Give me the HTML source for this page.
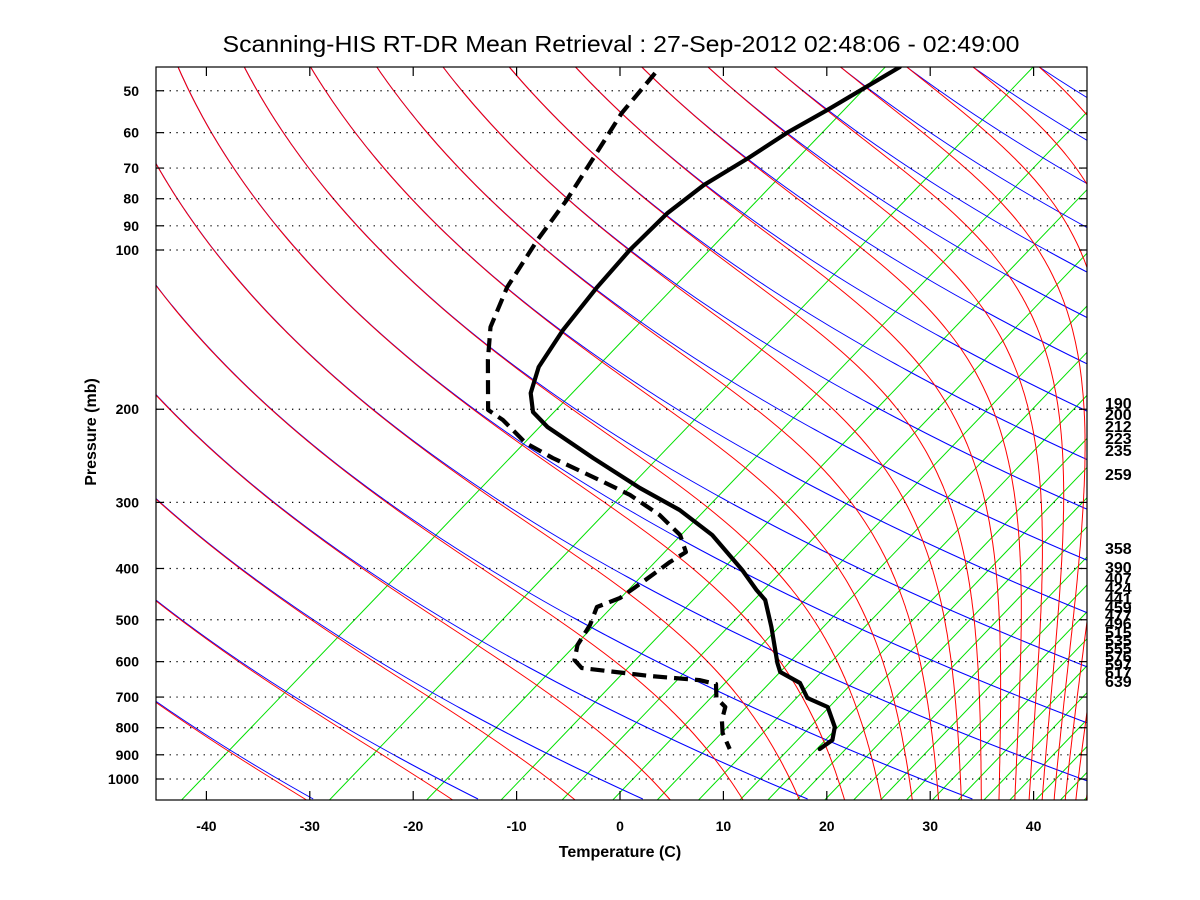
<!DOCTYPE html>
<html><head><meta charset="utf-8"><title>Skew-T</title>
<style>
html,body{margin:0;padding:0;background:#fff;}
svg{display:block;font-family:"Liberation Sans",Arial,sans-serif;}
</style></head>
<body>
<svg id="chart" width="1200" height="900" viewBox="0 0 1200 900">
  <defs><clipPath id="plotclip"><rect x="156" y="67" width="931" height="733"/></clipPath></defs>
  <rect x="0" y="0" width="1200" height="900" fill="#fff"/>
  <g id="bg" clip-path="url(#plotclip)"></g>
  <g id="grid"></g>
  <g id="profiles" clip-path="url(#plotclip)"></g>
  <rect x="156" y="67" width="931" height="733" fill="none" stroke="#000" stroke-width="1.2"/>
  <g id="axes"></g>
  <text x="621" y="52" text-anchor="middle" font-size="23" textLength="797" lengthAdjust="spacingAndGlyphs">Scanning-HIS RT-DR Mean Retrieval : 27-Sep-2012 02:48:06 - 02:49:00</text>
  <text x="620" y="857" text-anchor="middle" font-size="16" font-weight="bold">Temperature (C)</text>
  <text x="0" y="0" transform="translate(96,432) rotate(-90)" text-anchor="middle" font-size="16" font-weight="bold">Pressure (mb)</text>
  <g id="rlabels"></g>
</svg>
<script>
// ---- chart data ----
const tempP = [45.1,54.4,59.8,67.0,75.4,85.1,100,117.5,141.6,166.4,186.4,202.4,216.1,247.3,281.8,310.1,345.8,402.6,439.3,458.8,516.1,603.5,627.6,658.4,703.0,731.1,797.6,843.9,877.6];
const tempT = [-65.1,-66.7,-67.7,-68.3,-69.2,-69.2,-68.2,-66.7,-64.6,-62.3,-59.8,-57.2,-53.9,-45.6,-37.3,-30.7,-24.4,-17.1,-13.2,-11.1,-7.1,-2.0,-0.6,2.7,5.3,8.4,11.6,13.0,12.9];
const dewP = [46.3,55.1,65.6,80.4,95.7,117.5,139.8,161.4,200.6,209.6,231.7,247.3,272.2,290.4,316.9,345.8,372.4,389.0,420.6,454.8,473.0,511.6,558.1,595.7,616.9,638.8,650.1,661.4,703.0,731.1,773.7,818.5,877.6];
const dewT = [-88.0,-86.2,-83.6,-80.6,-78.4,-75.4,-72.0,-68.1,-61.8,-59.1,-54.0,-49.5,-42.2,-37.4,-32.0,-27.5,-24.8,-25.1,-25.2,-25.4,-26.5,-24.9,-23.6,-22.0,-20.3,-12.7,-7.4,-5.3,-3.5,-1.5,-0.2,1.5,4.2];
const xTicks = [-40,-30,-20,-10,0,10,20,30,40];
const yTicks = [50,60,70,80,90,100,200,300,400,500,600,700,800,900,1000];
const rightLabels = ['190','200','212','223','235','259','358','390','407','424','441','459','477','496','515','535','555','576','597','617','639'];
const rightLabelP = [194.6,204.2,215.1,226.7,238.8,265.1,365.9,397.4,416.9,435.5,454.8,473.0,489.8,507.2,527.4,546.1,565.5,585.5,606.2,627.6,652.6];
const mixBottomT = [-42.4,-28.1,-18.7,-11.5,-5.6,-0.7,3.6,7.6,11.6,14.3,17.1,19.8,22.6,25.2,27.7,30.2,32.7,35.2,37.7,40.2,42.6,44.9];

const NS = 'http://www.w3.org/2000/svg';
const X0 = 156, X1 = 1087, Y0 = 67, Y1 = 800;
function yP(p){ return 250 + 529*Math.log10(p/100); }
function pY(y){ return 100*Math.pow(10,(y-250)/529); }
function xAxis(t){ return 620 + 10.34*t; }
function xT(t,p){ return xAxis(t) + 1.3*(800 - yP(p)); }
function mk(tag, attrs, parent){ const e=document.createElementNS(NS,tag); for(const k in attrs) e.setAttribute(k,attrs[k]); parent.appendChild(e); return e; }

const bg = document.getElementById('bg');
const C = 0.001245, D = -1.3, B = -2170, A = 10.2;

mixBottomT.forEach((t,i)=>{
  const xb = xAxis(t);
  const l = mk('line',{x1:xb,y1:Y1,x2:xb+0.96*(Y1-Y0),y2:Y0,stroke:'#00e000','stroke-width':1},bg);
  
  
});

function ratio(T,p){
  if(T<150) return 1;
  const es = 6.112*Math.exp(17.67*(T-273.15)/(T-29.65));
  const rs = 0.622*es/Math.max(p-es,1);
  const num = 1 + 2.5e6*rs/(287*T);
  const den = 1 + 6.25e12*rs*0.622/(1004*287*T*T);
  return num/den;
}
for(let n=-2;n<=19;n++){
  const P = 2650 + 165*n;
  let pts=[];
  for(let y=Y0;y<=Y1;y+=3){ pts.push((P*Math.exp(C*(y-800))+D*(y-800)+B).toFixed(1)+','+y); }
  const pl = mk('polyline',{points:pts.join(' '),fill:'none',stroke:'#0000ff','stroke-width':1},bg);
  
  
  let x = P*Math.exp(C*(Y0-800))+D*(Y0-800)+B;
  let rp=[x.toFixed(1)+','+Y0];
  for(let y=Y0;y<Y1;y+=1){
    const tau = x - D*(y-800) - B;
    const T = tau/A;
    const s = C*tau*ratio(T,pY(y)) + D;
    x += s;
    if((y+1)%3===0||y+1===Y1) rp.push(x.toFixed(1)+','+(y+1));
  }
  const rl = mk('polyline',{points:rp.join(' '),fill:'none',stroke:'#ff0000','stroke-width':1},bg);
  
  
}

const grid = document.getElementById('grid');
const axes = document.getElementById('axes');
yTicks.forEach(p=>{
  const y = yP(p);
  const g = mk('line',{x1:X0,y1:y,x2:X1,y2:y,stroke:'#000','stroke-width':1.2,'stroke-dasharray':'1.3,5.5'},grid);
  
  
  const t1 = mk('line',{x1:X0,y1:y,x2:X0+8,y2:y,stroke:'#000','stroke-width':1.2},axes);
  
  
  const t2 = mk('line',{x1:X1-8,y1:y,x2:X1,y2:y,stroke:'#000','stroke-width':1.2},axes);
  
  
  const lb = mk('text',{x:139,y:y+5,'text-anchor':'end','font-size':14,'font-weight':'bold'},axes);
  lb.textContent = p;
  
  
});
xTicks.forEach(t=>{
  const x = xAxis(t);
  const a = mk('line',{x1:x,y1:Y1,x2:x,y2:Y1-9,stroke:'#000','stroke-width':1.2},axes);
  
  
  const b = mk('line',{x1:x,y1:Y0,x2:x,y2:Y0+9,stroke:'#000','stroke-width':1.2},axes);
  
  
  const lb = mk('text',{x:x,y:831,'text-anchor':'middle','font-size':14,'font-weight':'bold'},axes);
  lb.textContent = t;
  
  
});

const rg = document.getElementById('rlabels');
rightLabels.forEach((s,i)=>{
  const tx = mk('text',{x:1105,y:yP(rightLabelP[i])+6,'font-size':16,'font-weight':'bold'},rg);
  tx.textContent = s;
  
  
});

const prof = document.getElementById('profiles');
function path(P,T){ return P.map((p,i)=>(i?'L':'M')+xT(T[i],p).toFixed(1)+','+yP(p).toFixed(1)).join(' '); }
const tl = mk('path',{d:path(tempP,tempT),fill:'none',stroke:'#000','stroke-width':4.2,'stroke-linejoin':'round','stroke-linecap':'round'},prof);


const dl = mk('path',{d:path(dewP,dewT),fill:'none',stroke:'#000','stroke-width':4.2,'stroke-dasharray':'14,7','stroke-linejoin':'round'},prof);


</script>
</body></html>
